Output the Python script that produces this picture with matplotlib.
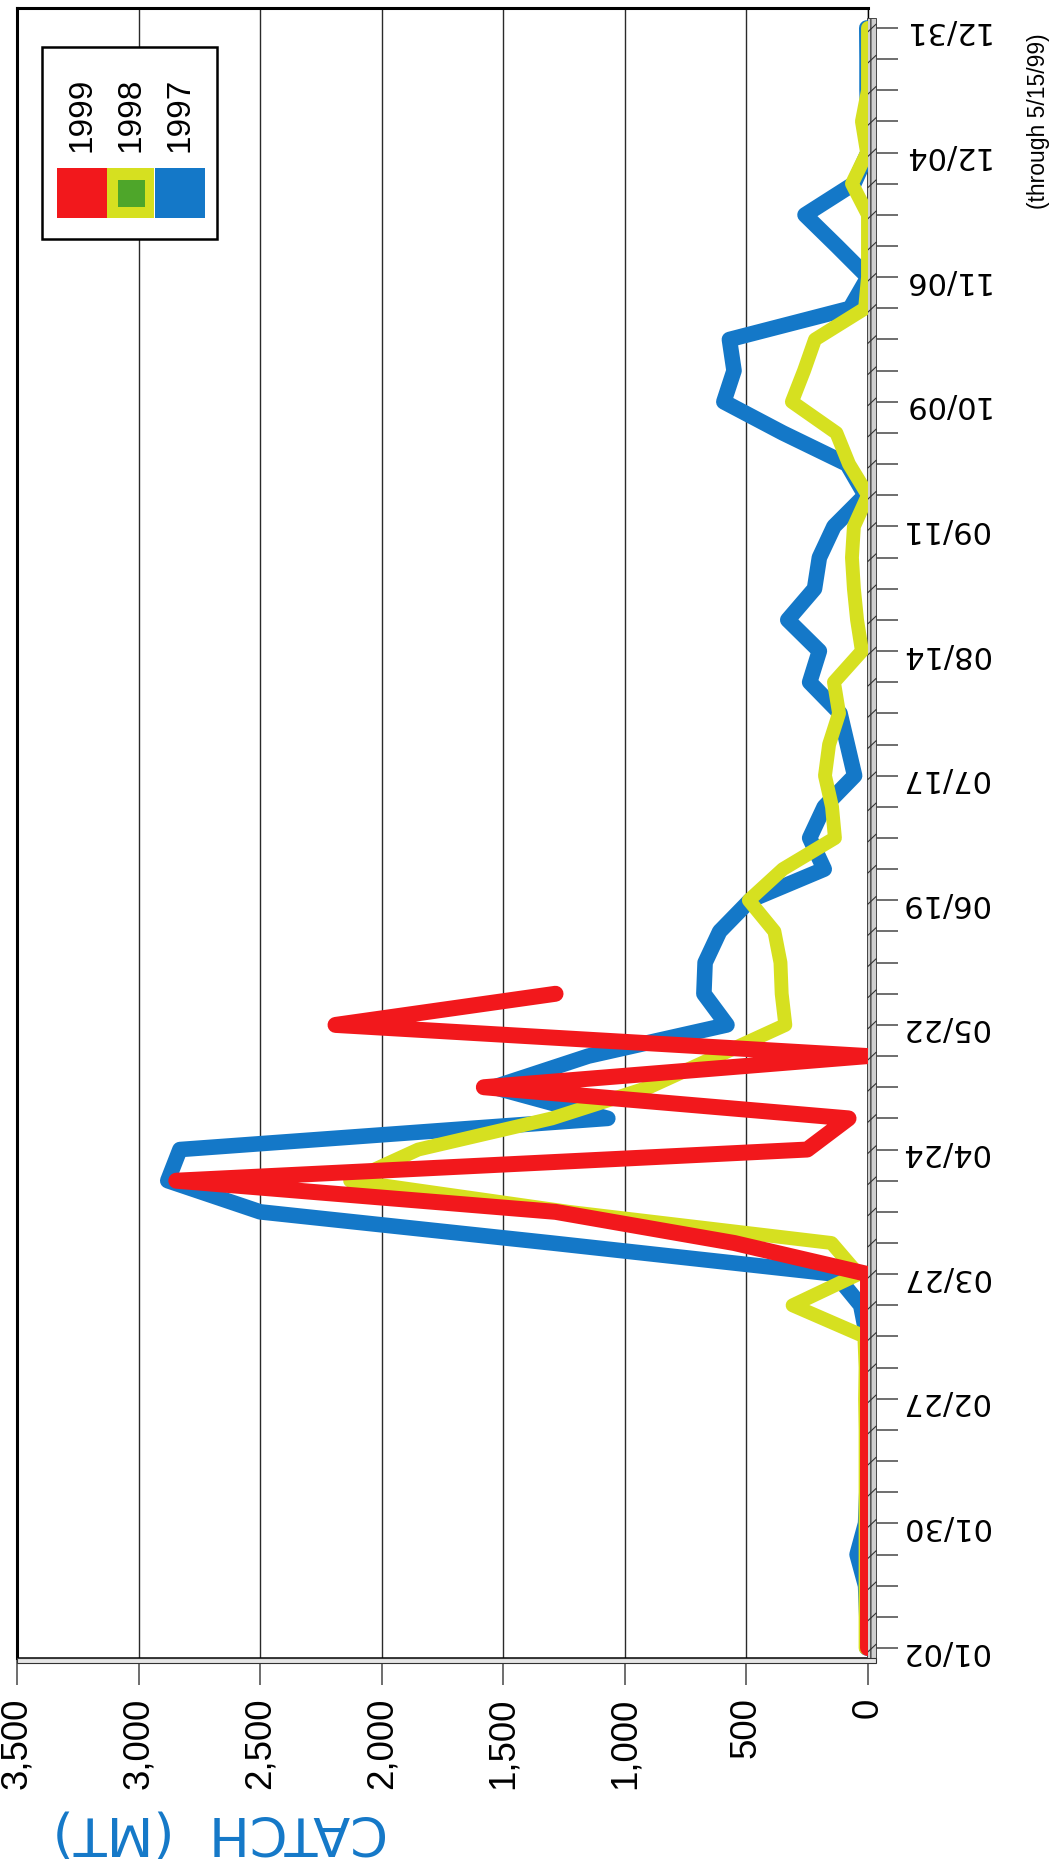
import numpy as np
import matplotlib.pyplot as plt
from matplotlib.patches import Rectangle

# weekly catch (MT), week 0 = 01/02
catch_1997 = [5, 5, 10, 45, 10, 5, 5, 5, 5, 5, 5, 30, 135, 1300, 2500, 2880, 2830, 1070,
              1540, 1150, 580, 675, 670, 610, 485, 180, 240, 180, 55, 85, 115, 240, 200,
              330, 220, 200, 140, 12, 86, 350, 593, 551, 570, 74, 0, 128, 259, 58, 0, 0,
              4, 4, 5]
catch_1998 = [10, 10, 10, 10, 10, 10, 10, 10, 12, 10, 15, 310, 40, 150, 1230, 2130, 1850,
              1300, 900, 620, 340, 355, 360, 385, 490, 350, 136, 148, 177, 160, 119, 140,
              25, 45, 58, 66, 58, 0, 78, 130, 313, 263, 218, 12, 0, 0, 0, 66, 4, 25, 0, 0, 0]
catch_1999 = [0, 0, 0, 0, 0, 0, 0, 0, 0, 0, 0, 0, 0, 550, 1285, 2845, 250, 80, 1580, 0,
              2190, 1285]

date_labels = ['01/02', '01/30', '02/27', '03/27', '04/24', '05/22', '06/19', '07/17',
               '08/14', '09/11', '10/09', '11/06', '12/04', '12/31']
label_weeks = [0, 4, 8, 12, 16, 20, 24, 28, 32, 36, 40, 44, 48, 52]
catch_ticks = [0, 500, 1000, 1500, 2000, 2500, 3000, 3500]

RED = '#f2181c'
YELLOW = '#d6e020'
BLUE = '#1478c8'
GREEN = '#4ea62a'

W, H = 1050, 1864


def fx(x):
    return x / W


def fy(y):
    return 1 - y / H


fig = plt.figure(figsize=(10.5, 18.64), dpi=100)
ax = fig.add_axes([fx(17), fy(1658), (868 - 17) / W, (1658 - 8) / H])

# chart is drawn turned on its side: catch runs right-to-left, weeks run upward
for data, col, lw, z in [(catch_1997, BLUE, 11.2, 4), (catch_1998, YELLOW, 10.0, 5),
                         (catch_1999, RED, 11.5, 6)]:
    ax.plot(data, np.arange(len(data)), color=col, lw=lw, zorder=z,
            solid_capstyle='round', solid_joinstyle='round')

ax.set_xlim(3500, 0)
ax.set_ylim(-0.32, 52.64)
ax.grid(axis='x', color='#2a2a2a', lw=1.0)
ax.set_axisbelow(True)

ax.set_xticks(catch_ticks)
ax.set_xticklabels([f'{v:,}' for v in catch_ticks], rotation=90,
                   fontsize=26.5, family='Liberation Sans')
ax.tick_params(axis='x', direction='out', length=19.5, width=1.2, color='#555555', pad=9)

ax.yaxis.tick_right()
ax.set_yticks(label_weeks)
ax.set_yticklabels(date_labels, rotation=180, fontsize=22, family='DejaVu Sans')
ax.set_yticks(np.arange(53), minor=True)
ax.tick_params(axis='y', which='both', direction='out', length=21.5, width=1.2,
               color='#555555', pad=2)

for s in ['left', 'top']:
    ax.spines[s].set_linewidth(2.2)
ax.spines['bottom'].set_linewidth(1.8)
ax.spines['right'].set_linewidth(1.0)

# 3-D style floor strips along the right and bottom edges
ax.add_patch(Rectangle((fx(867), fy(1658)), 9 / W, 1640 / H, transform=fig.transFigure,
                       fc='#cfcfcf', ec='#444444', lw=0.7, hatch='||', clip_on=False,
                       zorder=2.7))
ax.add_patch(Rectangle((fx(17), fy(1663)), 859 / W, 5 / H, transform=fig.transFigure,
                       fc='#e6e6e6', ec='#333333', lw=0.8, clip_on=False, zorder=2.7))
for k in range(53):
    ax.plot([1.0, 1.0095], [k - 0.12, k + 0.12], transform=ax.get_yaxis_transform(),
            color='#333333', lw=0.8, clip_on=False, zorder=2.8)

# legend box
fig.add_artist(Rectangle((fx(42), fy(239)), 175 / W, 192 / H, transform=fig.transFigure,
                         fc='white', ec='black', lw=1.8, zorder=5))
fig.add_artist(Rectangle((fx(57), fy(218)), 50 / W, 50 / H, transform=fig.transFigure,
                         fc=RED, ec='none', zorder=6))
fig.add_artist(Rectangle((fx(107), fy(218)), 47 / W, 50 / H, transform=fig.transFigure,
                         fc=YELLOW, ec='none', zorder=6))
fig.add_artist(Rectangle((fx(118), fy(207)), 27 / W, 27 / H, transform=fig.transFigure,
                         fc=GREEN, ec='none', zorder=7))
fig.add_artist(Rectangle((fx(155), fy(218)), 50 / W, 50 / H, transform=fig.transFigure,
                         fc=BLUE, ec='none', zorder=6))
for lab, xc in [('1999', 82), ('1998', 131), ('1997', 180)]:
    fig.text(fx(xc), fy(115), lab, rotation=90, fontsize=24, family='Liberation Sans',
             ha='center', va='center', zorder=8)

fig.text(fx(220), fy(1831), 'CATCH  (MT)', rotation=180, color=BLUE, fontsize=39,
         family='DejaVu Sans', ha='center', va='center')
fig.text(fx(1039), fy(121), '(through 5/15/99)', rotation=90, fontsize=16.5,
         family='Liberation Sans', ha='center', va='center')

fig.savefig('out.png', dpi=100)
